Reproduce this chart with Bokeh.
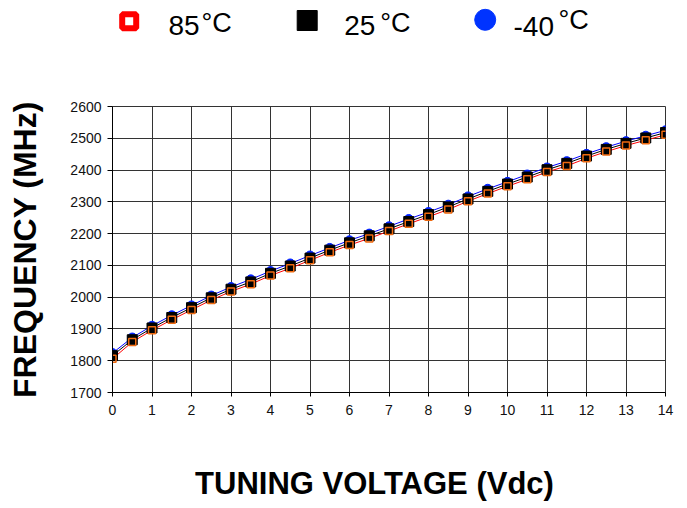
from bokeh.plotting import figure
from bokeh.models import Range1d, FixedTicker
from bokeh.core.properties import value
from bokeh.embed import file_html
from bokeh.resources import INLINE

# ---- data ----
voltage = [0, 0.5, 1, 1.5, 2, 2.5, 3, 3.5, 4, 4.5, 5, 5.5, 6, 6.5, 7, 7.5,
           8, 8.5, 9, 9.5, 10, 10.5, 11, 11.5, 12, 12.5, 13, 13.5, 14]
freq_85 = [1806, 1859, 1896, 1929, 1960, 1991, 2018, 2041, 2068, 2091, 2116,
           2141, 2164, 2185, 2208, 2231, 2253, 2276, 2302, 2326, 2349, 2371,
           2394, 2413, 2437, 2458, 2477, 2494, 2511]
freq_25 = [1816, 1866, 1903, 1936, 1967, 1998, 2025, 2048, 2075, 2098, 2123,
           2148, 2171, 2193, 2215, 2238, 2260, 2284, 2309, 2333, 2356, 2378,
           2401, 2421, 2444, 2465, 2484, 2501, 2518]
freq_m40 = [1824, 1873, 1910, 1943, 1974, 2005, 2032, 2056, 2082, 2106, 2131,
            2155, 2179, 2200, 2223, 2246, 2268, 2291, 2317, 2341, 2363, 2386,
            2408, 2428, 2451, 2472, 2491, 2508, 2525]
x_ticks = list(range(0, 15))
y_ticks = list(range(1700, 2700, 100))
legend_main = ["85", "25", "-40"]
legend_unit = "\u00b0C"
x_title = "TUNING VOLTAGE (Vdc)"
y_title = "FREQUENCY (MHz)"

FONT = "Liberation Sans"
W = 677


def strip(height):
    f = figure(width=W, height=height, output_backend="svg",
               toolbar_location=None, x_range=Range1d(0, W),
               y_range=Range1d(0, height), min_border=0,
               x_axis_type=None, y_axis_type=None)
    f.grid.visible = False
    f.outline_line_color = None
    return f


# ---- legend strip ----
lg = strip(60)
lg.scatter([128.7], [39.3], marker="square", size=14, fill_color="white",
           line_color="#ff0000", line_width=6)
lg.scatter([306.7], [40], marker="square", size=20, fill_color="black",
           line_color="black")
lg.scatter([484.7], [40.7], marker="circle", size=21, fill_color="#0033ff",
           line_color="#0033ff")
lg.text(x=[168, 343.7, 513], y=[35, 35, 33.7], text=legend_main,
        text_font=value(FONT), text_font_size="28px", text_color="black",
        text_baseline="alphabetic")
lg.text(x=[201, 379.7, 558], y=[37.3, 37.3, 40.7], text=[legend_unit] * 3,
        text_font=value(FONT), text_font_size="27px", text_color="black",
        text_baseline="alphabetic")

# ---- main chart ----
p = figure(width=W, height=384, output_backend="svg", toolbar_location=None,
           x_range=Range1d(0, 14), y_range=Range1d(1700, 2600),
           frame_width=553, frame_height=286,
           min_border_left=112, min_border_right=12,
           min_border_top=46, min_border_bottom=52)

p.line(voltage, freq_m40, line_color="#0000ff", line_width=1)
p.line(voltage, freq_25, line_color="black", line_width=1)
p.line(voltage, freq_85, line_color="#ff0000", line_width=1)
p.scatter(voltage, freq_m40, marker="circle", size=9, fill_color="#0022ff",
          line_color="#0022ff")
p.scatter(voltage, freq_25, marker="square", size=10, fill_color="black",
          line_color="black")
p.scatter(voltage, freq_85, marker="square", size=7, fill_color=None,
          line_color="#f06a10", line_width=1.5)

p.xaxis.ticker = FixedTicker(ticks=x_ticks)
p.yaxis.ticker = FixedTicker(ticks=y_ticks)
p.xgrid.ticker = FixedTicker(ticks=x_ticks)
p.ygrid.ticker = FixedTicker(ticks=y_ticks)
p.grid.grid_line_color = "#333333"
p.grid.grid_line_width = 1
p.outline_line_color = "#333333"

for ax in (p.xaxis, p.yaxis):
    ax.minor_tick_line_color = None
    ax.major_tick_in = 0
    ax.axis_line_color = "black"
    ax.major_tick_line_color = "black"
    ax.major_label_text_font = FONT
    ax.major_label_text_font_size = "14px"
    ax.major_label_text_color = "#111111"
    ax.axis_label_text_font = FONT
    ax.axis_label_text_font_style = "bold"
    ax.axis_label_text_font_size = "32px"
    ax.axis_label_text_color = "black"

p.xaxis.major_tick_out = 4
p.xaxis.major_label_standoff = 8
p.yaxis.major_tick_out = 5
p.yaxis.major_label_standoff = 6
p.yaxis.axis_label = y_title
p.yaxis.axis_label_standoff = 24

# ---- x-axis title strip ----
xt = strip(60)
xt.text(x=[374], y=[20.7], text=[x_title], text_align="center",
        text_baseline="alphabetic", text_font=value(FONT),
        text_font_style="bold", text_font_size="31px", text_color="black")

open("out.html", "w").write(file_html([lg, p, xt], INLINE))
